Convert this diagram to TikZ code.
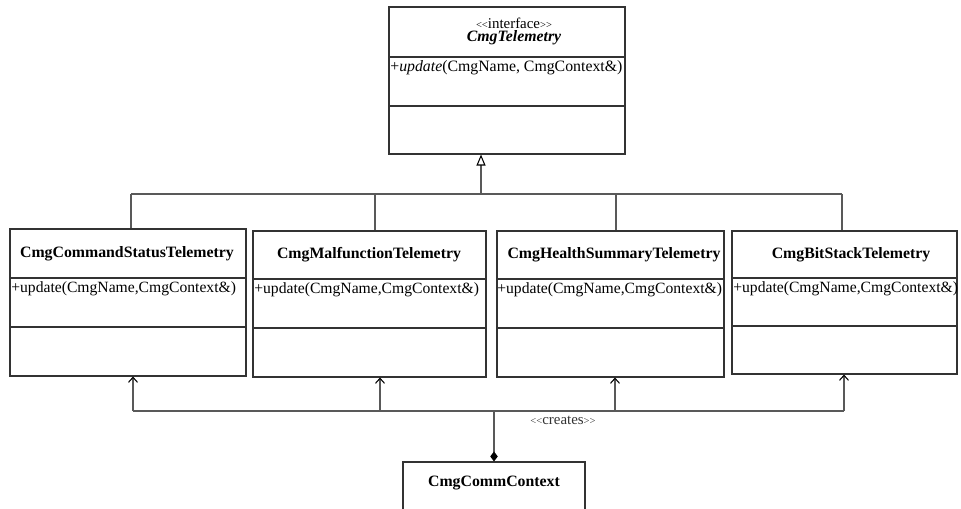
\documentclass[tikz,border=0pt]{standalone}
\usepackage{fontspec}
\setmainfont{Liberation Serif}
\usetikzlibrary{positioning,fit,arrows.meta}

\newcommand{\stlt}{{\fontsize{6}{7}\selectfont<{}<}}
\newcommand{\stgt}{{\fontsize{6}{7}\selectfont>{}>}}

\begin{document}
\begin{tikzpicture}[x=0.02cm, y=-0.02cm,
    classbox/.style={draw=black!80, line width=0.6pt, inner sep=0pt},
    divider/.style={draw=black!80, line width=0.6pt},
    classname/.style={font=\fontsize{9}{11}\selectfont\bfseries, inner sep=0pt},
    optext/.style={font=\fontsize{9}{11}\selectfont, inner sep=0pt, anchor=west},
    stereo/.style={font=\fontsize{8.5}{10}\selectfont, inner sep=0pt},
    conn/.style={draw=black!65, line width=0.6pt},
    inherit/.style={conn, -{Triangle[open, length=0.22cm, width=0.18cm, color=black]}},
    uses/.style={conn, -{Straight Barb[length=0.1cm, width=0.18cm, color=black]}},
    owns/.style={conn, -{Diamond[length=0.2cm, width=0.15cm, color=black]}}
]
\useasboundingbox (0,0) rectangle (961,508);
\clip (0,0) rectangle (961,508);

% Interface
\node[classbox, fit={(389,7) (625,154)}] (telem) {};
\draw[divider] (telem.west |- 0,57) -- (telem.east |- 0,57);
\draw[divider] (telem.west |- 0,106) -- (telem.east |- 0,106);
\node[stereo] (telem-stereo) at (514,23) {\stlt interface\stgt};
\node[classname] (telem-name) at (514,38) {\itshape CmgTelemetry};
\node[optext] (telem-op) at (390,68) {+\textit{update}(CmgName, CmgContext\&)};

% Implementing classes
\foreach \name/\xa/\ya/\xb/\yb/\da/\db/\tx/\ox/\title in {
    cmdstat/10/229/246/376/278/327/127/11/CmgCommandStatusTelemetry,
    malf/253/231/486/377/279/328/369/254/CmgMalfunctionTelemetry,
    health/497/231/724/377/279/328/614/497/CmgHealthSummaryTelemetry,
    bitstack/732/231/957/374/278/326/851/733/CmgBitStackTelemetry} {
    \node[classbox, fit={(\xa,\ya) (\xb,\yb)}] (\name) {};
    \draw[divider] (\name.west |- 0,\da) -- (\name.east |- 0,\da);
    \draw[divider] (\name.west |- 0,\db) -- (\name.east |- 0,\db);
    \node[classname] (\name-title) at ({\tx}, {(\ya+\da)/2}) {\title};
    \node[optext, font=\fontsize{8.9}{11}\selectfont] (\name-op) at ({\ox}, {\da+11}) {+update(CmgName,CmgContext\&)};
}

% Realization
\coordinate (bus) at (481,194);
\draw[inherit] (bus) -- (bus |- telem.south);
\foreach \name/\x in {cmdstat/131, malf/375, health/616, bitstack/842} {
    \coordinate (top-\name) at (\x,194);
    \draw[conn] (top-\name) -- (top-\name |- \name.north);
}
\draw[conn] (top-cmdstat) -- (top-bitstack);

% Context
\node[classbox, fit={(403,462) (585,530)}] (commctx) {};
\node[classname] (commctx-name) at (494,483) {CmgCommContext};

\foreach \name/\x in {cmdstat/133, malf/380, health/615, bitstack/844} {
    \coordinate (bot-\name) at (\x,411);
    \draw[uses] (bot-\name) -- (bot-\name |- \name.south);
}
\draw[conn] (bot-cmdstat) -- (bot-bitstack);
\coordinate (hub) at (494,411);
\draw[owns] (hub) -- (hub |- commctx.north);
\node[stereo, text=black!80] (creates) at (563,420) {\stlt creates\stgt};

\end{tikzpicture}
\end{document}
